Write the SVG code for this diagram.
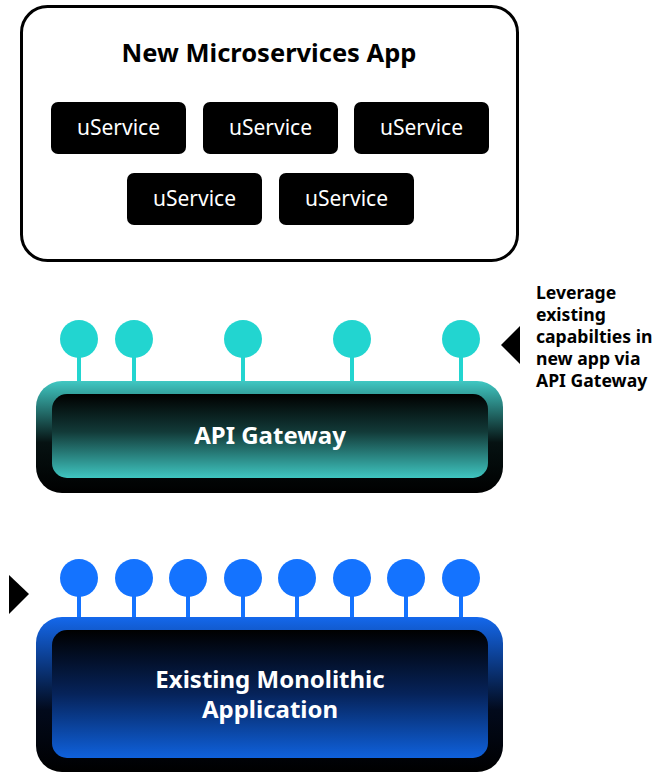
<svg xmlns="http://www.w3.org/2000/svg" width="667" height="772" viewBox="0 0 667 772">
<style>
.title{font-family:"Noto Sans","Liberation Sans",sans-serif;font-weight:bold;font-size:25.5px;fill:#000;text-anchor:middle}
.svc{fill:#000}
.svct{font-family:"Noto Sans","Liberation Sans",sans-serif;font-size:21px;fill:#fff;text-anchor:middle}
.big{font-family:"Noto Sans","Liberation Sans",sans-serif;font-weight:bold;font-size:24px;fill:#fff;text-anchor:middle}
.note{font-family:"Noto Sans","Liberation Sans",sans-serif;font-weight:bold;font-size:17.6px;fill:#000}
.tl{fill:#22d5d0}
.tls{stroke:#22d5d0;stroke-width:4}
.bl{fill:#1473ff}
.bls{stroke:#1473ff;stroke-width:4}
</style>
<defs>
<linearGradient id="gwOut" x1="0" y1="0" x2="0" y2="1">
<stop offset="0" stop-color="#40c8c3"/><stop offset="0.55" stop-color="#061212"/><stop offset="1" stop-color="#000"/>
</linearGradient>
<linearGradient id="gwIn" x1="0" y1="0" x2="0" y2="1">
<stop offset="0" stop-color="#000"/><stop offset="0.45" stop-color="#123a38"/><stop offset="1" stop-color="#3fc6c1"/>
</linearGradient>
<linearGradient id="moOut" x1="0" y1="0" x2="0" y2="1">
<stop offset="0" stop-color="#1468ec"/><stop offset="0.6" stop-color="#020a1c"/><stop offset="1" stop-color="#000"/>
</linearGradient>
<linearGradient id="moIn" x1="0" y1="0" x2="0" y2="1">
<stop offset="0" stop-color="#000"/><stop offset="0.5" stop-color="#06235a"/><stop offset="1" stop-color="#0f61dc"/>
</linearGradient>
</defs>

<g id="microservices-app">
<rect x="21.5" y="6.5" width="496" height="254" rx="26" fill="#fff" stroke="#000" stroke-width="3"/>
<text class="title" x="269" y="62">New Microservices App</text>
</g>
<g id="svc1"><rect class="svc" x="51" y="102" width="135" height="52" rx="7"/><text class="svct" x="118.5" y="135">uService</text></g>
<g id="svc2"><rect class="svc" x="203" y="102" width="135" height="52" rx="7"/><text class="svct" x="270.5" y="135">uService</text></g>
<g id="svc3"><rect class="svc" x="354" y="102" width="135" height="52" rx="7"/><text class="svct" x="421.5" y="135">uService</text></g>
<g id="svc4"><rect class="svc" x="127" y="173" width="135" height="52" rx="7"/><text class="svct" x="194.5" y="206">uService</text></g>
<g id="svc5"><rect class="svc" x="279" y="173" width="135" height="52" rx="7"/><text class="svct" x="346.5" y="206">uService</text></g>

<g id="connectors">
<line class="tls" x1="79" y1="350" x2="79" y2="383"/>
<line class="tls" x1="134" y1="350" x2="134" y2="383"/>
<line class="tls" x1="243" y1="350" x2="243" y2="383"/>
<line class="tls" x1="352" y1="350" x2="352" y2="383"/>
<line class="tls" x1="461" y1="350" x2="461" y2="383"/>
<line class="bls" x1="79" y1="590" x2="79" y2="619"/>
<line class="bls" x1="134" y1="590" x2="134" y2="619"/>
<line class="bls" x1="188" y1="590" x2="188" y2="619"/>
<line class="bls" x1="243" y1="590" x2="243" y2="619"/>
<line class="bls" x1="297" y1="590" x2="297" y2="619"/>
<line class="bls" x1="352" y1="590" x2="352" y2="619"/>
<line class="bls" x1="406" y1="590" x2="406" y2="619"/>
<line class="bls" x1="461" y1="590" x2="461" y2="619"/>
</g>

<g id="api-gateway">
<circle class="tl" cx="79" cy="339" r="19"/>
<circle class="tl" cx="134" cy="339" r="19"/>
<circle class="tl" cx="243" cy="339" r="19"/>
<circle class="tl" cx="352" cy="339" r="19"/>
<circle class="tl" cx="461" cy="339" r="19"/>
<rect x="36" y="381" width="467" height="112" rx="26" fill="url(#gwOut)"/>
<rect x="52" y="394" width="436" height="84" rx="15" fill="url(#gwIn)"/>
<text class="big" x="270" y="444">API Gateway</text>
</g>

<g id="note">
<polygon points="501,345 520,326 520,364" fill="#000"/>
<text class="note" x="536" y="299">Leverage</text>
<text class="note" x="536" y="321">existing</text>
<text class="note" x="536" y="343">capabilties in</text>
<text class="note" x="536" y="365">new app via</text>
<text class="note" x="536" y="387">API Gateway</text>
</g>

<g id="monolith">
<polygon points="9,575 29,594 9,614" fill="#000"/>
<circle class="bl" cx="79" cy="578" r="19"/>
<circle class="bl" cx="134" cy="578" r="19"/>
<circle class="bl" cx="188" cy="578" r="19"/>
<circle class="bl" cx="243" cy="578" r="19"/>
<circle class="bl" cx="297" cy="578" r="19"/>
<circle class="bl" cx="352" cy="578" r="19"/>
<circle class="bl" cx="406" cy="578" r="19"/>
<circle class="bl" cx="461" cy="578" r="19"/>
<rect x="36" y="617" width="467" height="155" rx="26" fill="url(#moOut)"/>
<rect x="52" y="630" width="436" height="128" rx="15" fill="url(#moIn)"/>
<text class="big" x="270" y="688">Existing Monolithic</text>
<text class="big" x="270" y="718">Application</text>
</g>
</svg>
